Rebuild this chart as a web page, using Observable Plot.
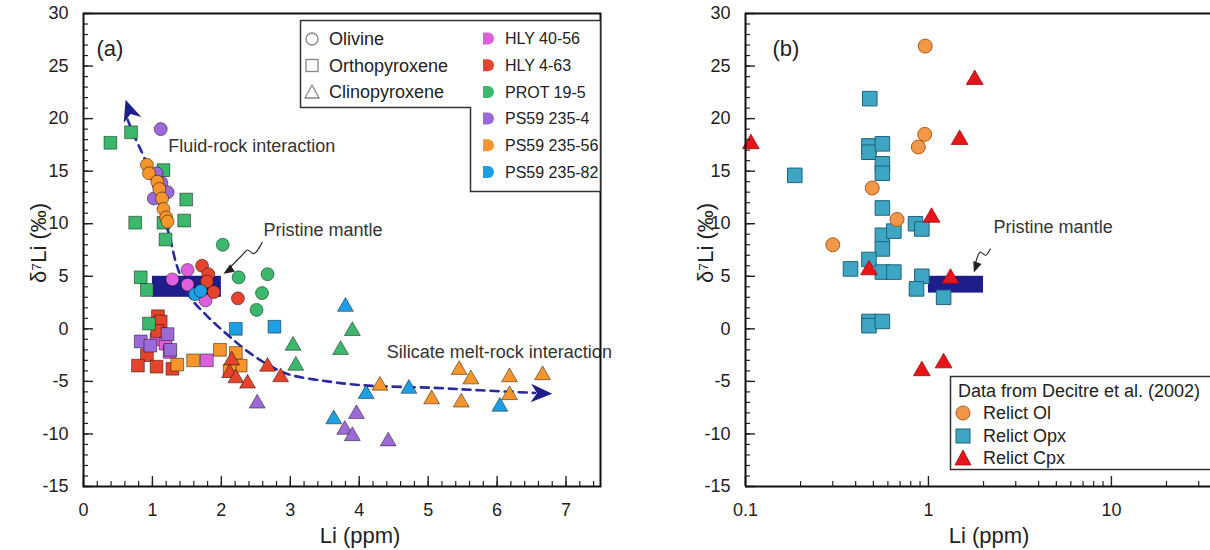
<!DOCTYPE html>
<html><head><meta charset="utf-8">
<script src="https://cdn.jsdelivr.net/npm/d3@7"></script>
<script src="https://cdn.jsdelivr.net/npm/@observablehq/plot@0.6"></script>
<style>
body{margin:0;background:#fff;}
#wrap{position:relative;width:1210px;height:550px;overflow:hidden;font-family:"Liberation Sans",Arial,Helvetica,sans-serif;background:#fff;}
#wrap > div, #wrap > svg{position:absolute;top:0;}
</style></head><body><div id="wrap"></div>
<script>
// ---------- categories ----------
const samples = ["HLY 40-56","HLY 4-63","PROT 19-5","PS59 235-4","PS59 235-56","PS59 235-82"];
const sampleColors = ["#de5fdb","#e5442c","#3cb86c","#9b69d8","#f5952b","#1d9fe3"];
const minerals = ["Olivine","Orthopyroxene","Clinopyroxene"];
const mineralSymbols = ["circle","square","triangle"];

// ---------- panel (a): [Li ppm, δ7Li ‰] ----------
// Olivine
const olHLY4056 = [[1.29,4.7],[1.51,5.6],[1.51,4.2],[1.77,2.7]];
const olHLY463  = [[1.72,6.0],[1.81,5.2],[1.79,4.5],[1.89,3.5],[2.24,2.9]];
const olPROT    = [[2.02,8.0],[2.25,4.9],[2.67,5.2],[2.59,3.4],[2.51,1.8]];
const olPS594   = [[1.12,19.0],[1.06,14.8],[1.13,13.9],[1.22,13.0],[1.02,12.4]];
const olPS5956  = [[0.92,15.6],[0.95,14.8],[1.07,14.0],[1.10,13.3],[1.14,12.4],[1.16,11.4],[1.20,10.6],[1.22,10.2]];
const olPS5982  = [[1.62,3.3],[1.70,3.6]];
// Orthopyroxene
const opxHLY4056 = [[1.06,-1.0],[1.19,-1.4],[1.25,-2.2],[1.79,-3.0]];
const opxHLY463  = [[1.08,1.2],[1.12,0.7],[1.07,-0.2],[0.92,-2.5],[0.79,-3.5],[1.06,-3.6],[1.29,-3.8]];
const opxPROT    = [[0.39,17.7],[0.69,18.7],[1.16,15.1],[1.49,12.3],[0.75,10.1],[1.16,10.1],[1.46,10.3],[1.19,8.5],[0.83,4.9],[0.92,3.7],[0.95,0.5]];
const opxPS594   = [[1.22,-0.5],[0.83,-1.2],[0.97,-1.6],[1.26,-2.0]];
const opxPS5956  = [[1.36,-3.4],[1.59,-3.0],[1.98,-2.0],[2.21,-2.3],[2.28,-3.5],[2.12,-4.0]];
const opxPS5982  = [[2.21,0.0],[2.77,0.2]];
// Clinopyroxene
const cpxHLY4056 = [];
const cpxHLY463  = [[2.15,-3.0],[2.12,-4.2],[2.21,-4.7],[2.38,-5.2],[2.67,-3.6],[2.86,-4.6]];
const cpxPROT    = [[3.04,-1.6],[3.08,-3.5],[3.90,-0.2],[3.73,-2.0]];
const cpxPS594   = [[2.52,-7.1],[3.96,-8.1],[3.79,-9.6],[3.90,-10.2],[4.42,-10.7]];
const cpxPS5956  = [[4.30,-5.4],[5.45,-3.9],[5.62,-4.8],[6.18,-4.6],[6.66,-4.4],[5.05,-6.7],[5.48,-7.0],[6.18,-6.3]];
const cpxPS5982  = [[3.80,2.1],[4.10,-6.2],[4.72,-5.7],[6.04,-7.4],[3.63,-8.6]];

// pristine mantle field [Li min, Li max, δ7Li min, δ7Li max]
const pristineA = [1.0, 2.0, 3.0, 5.0];
const pristineB = [1.0, 2.0, 3.4, 5.0];

// trend (dashed) path, arrow tips and their headings (deg)
const trendPath = [[0.64,19.9],[0.76,18.0],[0.88,16.3],[1.02,13.5],[1.14,11.0],[1.24,9.0],[1.36,5.9],[1.55,3.0],[1.75,1.5],[1.94,0.3],[2.13,-0.8],[2.37,-2.1],[2.67,-3.4],[2.96,-4.3],[3.54,-5.0],[4.12,-5.4],[5.04,-5.6],[5.76,-5.85],[6.55,-6.1]];
const trendTips = [[0.61,21.8,-19],[6.80,-6.17,92]];
// squiggly pointers to pristine mantle
const pointerA = [[2.59,8.2],[2.47,7.15],[2.38,7.5],[2.30,7.0],[2.09,5.6]];
const pointerATip = [[2.03,5.25,238]];
const pointerB = [[2.18,7.6],[2.05,7.0],[1.92,7.3],[1.84,6.7],[1.79,5.9]];
const pointerBTip = [[1.77,5.35,200]];

const annotA = [["Fluid-rock interaction",1.23,17.35],["Pristine mantle",2.61,9.37],["Silicate melt-rock interaction",4.40,-2.24]];
const annotB = [["Pristine mantle",2.27,9.66]];

// ---------- panel (b): Decitre et al. (2002) ----------
const relictGroups = ["Relict Ol","Relict Opx","Relict Cpx"];
const relictOl  = [[0.96,26.9],[0.954,18.5],[0.88,17.3],[0.493,13.4],[0.673,10.4],[0.30,8.0]];
const relictOpx = [[0.478,21.9],[0.473,17.4],[0.473,16.8],[0.56,17.6],[0.56,15.7],[0.56,14.8],[0.186,14.6],[0.56,11.5],[0.56,8.9],[0.647,9.3],[0.85,10.0],[0.92,9.5],[0.56,7.6],[0.473,6.6],[0.375,5.7],[0.56,5.4],[0.647,5.4],[0.92,5.0],[0.86,3.8],[1.21,3.0],[0.473,0.7],[0.473,0.3],[0.56,0.7]];
const relictCpx = [[0.107,17.6],[1.79,23.7],[1.48,18.0],[1.04,10.6],[0.473,5.6],[1.32,4.8],[0.92,-4.0],[1.21,-3.25]];

// ---------- ticks ----------
const yMajor = [-15,-10,-5,0,5,10,15,20,25,30];
const yMinor = d3.range(-15,31,1);
const xMajorA = [0,1,2,3,4,5,6,7];
const xMinorA = d3.range(0,7.5,0.2);
const xMajorB = [0.1,1,10];
const xMinorB = [0.2,0.3,0.4,0.5,0.6,0.7,0.8,0.9,2,3,4,5,6,7,8,9,20,30];

// ---------- build tables ----------
const groupsA = [
  [olHLY4056,olHLY463,olPROT,olPS594,olPS5956,olPS5982],
  [opxHLY4056,opxHLY463,opxPROT,opxPS594,opxPS5956,opxPS5982],
  [cpxHLY4056,cpxHLY463,cpxPROT,cpxPS594,cpxPS5956,cpxPS5982]
];
const tableA = [];
groupsA.forEach((bySample, mi) => bySample.forEach((pts, si) => pts.forEach(([li, d]) =>
  tableA.push({mineral: minerals[mi], sample: samples[si], li, d}))));
const tableB = [];
[relictOl, relictOpx, relictCpx].forEach((pts, gi) => pts.forEach(([li, d]) => tableB.push({group: relictGroups[gi], li, d})));
const toPts = arr => arr.map(([li, d]) => ({li, d}));
const toTips = arr => arr.map(([li, d, a]) => ({li, d, a}));

// ---------- styles ----------
const font = '"Liberation Sans", Arial, Helvetica, sans-serif';
const navy = "#1d1d8c";
const ink = "#222";
const arrowHead = {draw(ctx, size){ const s = Math.sqrt(size); ctx.moveTo(0,0); ctx.lineTo(0.5*s,1.15*s); ctx.lineTo(0,0.82*s); ctx.lineTo(-0.5*s,1.15*s); ctx.closePath(); }};
const pointHead = {draw(ctx, size){ const s = Math.sqrt(size); ctx.moveTo(0,0); ctx.lineTo(0.45*s,1.1*s); ctx.lineTo(-0.45*s,1.1*s); ctx.closePath(); }};

function axes(xMajor, xMinor) {
  return [
    Plot.axisY({ticks: yMinor, tickSize: 5, dx: 5, tickFormat: () => "", label: null, strokeWidth: 1.2}),
    Plot.axisY({ticks: yMajor, tickSize: 10, dx: 10, tickFormat: () => "", label: null, strokeWidth: 1.4}),
    Plot.axisY({ticks: yMajor, tickSize: 0, tickPadding: 15, tickFormat: d => String(d), label: null, fontSize: 18}),
    Plot.axisX({ticks: xMinor, tickSize: 5, dy: -5, tickFormat: () => "", label: null, strokeWidth: 1.2}),
    Plot.axisX({ticks: xMajor, tickSize: 10, dy: -10, tickFormat: () => "", label: null, strokeWidth: 1.4}),
    Plot.axisX({ticks: xMajor, tickSize: 0, tickPadding: 17, tickFormat: d => String(d), label: null, fontSize: 18})
  ];
}
function titles(dxX, dxY, dyY, panel, dxP) {
  return [
    Plot.text(["Li (ppm)"], {frameAnchor: "bottom", dy: 49, dx: dxX, fontSize: 22, textAnchor: "middle", lineAnchor: "middle", fill: ink}),
    Plot.text(["δ\u2077Li (‰)"], {frameAnchor: "left", dx: dxY, dy: dyY, rotate: -90, fontSize: 22, textAnchor: "middle", lineAnchor: "middle", fill: ink}),
    Plot.text([panel], {frameAnchor: "top-left", dx: dxP, dy: 35, fontSize: 22, textAnchor: "start", lineAnchor: "middle", fill: ink})
  ];
}

const wrap = document.getElementById("wrap");

// ---------- panel (a) ----------
const dotStyle = {x: "li", y: "d", fill: "sample", stroke: "#000", strokeOpacity: 0.45, strokeWidth: 1};
const plotA = Plot.plot({
  width: 630, height: 550,
  marginLeft: 83, marginRight: 30, marginTop: 13, marginBottom: 64,
  x: {domain: [0, 7.5]},
  y: {domain: [-15, 30]},
  color: {domain: samples, range: sampleColors},
  style: {fontFamily: font, fontSize: "18px", color: ink, background: "transparent", overflow: "visible"},
  marks: [
    Plot.rect([pristineA], {x1: d => d[0], x2: d => d[1], y1: d => d[2], y2: d => d[3], fill: navy}),
    Plot.line(toPts(trendPath), {x: "li", y: "d", curve: "catmull-rom", stroke: "#2a2aa0", strokeWidth: 2.6, strokeDasharray: "8,6"}),
    Plot.dot(toTips(trendTips), {x: "li", y: "d", rotate: "a", symbol: arrowHead, r: 10.5, fill: navy, stroke: null}),
    Plot.dot(tableA.filter(d => d.mineral === "Orthopyroxene"), {...dotStyle, symbol: "square", r: 7.2}),
    Plot.dot(tableA.filter(d => d.mineral === "Olivine"), {...dotStyle, symbol: "circle", r: 6.5}),
    Plot.dot(tableA.filter(d => d.mineral === "Clinopyroxene"), {...dotStyle, symbol: "triangle", r: 5.9}),
    Plot.line(toPts(pointerA), {x: "li", y: "d", curve: "catmull-rom", stroke: "#333", strokeWidth: 1.2}),
    Plot.dot(toTips(pointerATip), {x: "li", y: "d", rotate: "a", symbol: pointHead, r: 5.5, fill: "#222", stroke: null}),
    Plot.text(annotA, {x: d => d[1], y: d => d[2], text: d => d[0], textAnchor: "start", fontSize: 18, fill: "#333"}),
    ...axes(xMajorA, xMinorA),
    ...titles(18, -45, -7, "(a)", 13),
    Plot.frame({stroke: "#111", strokeWidth: 2})
  ]
});
const da = document.createElement("div"); da.style.left = "0px"; da.appendChild(plotA); wrap.appendChild(da);

// ---------- panel (b) ----------
const plotB = Plot.plot({
  width: 570, height: 550,
  marginLeft: 105, marginRight: 0, marginTop: 13, marginBottom: 64,
  x: {type: "log", domain: [0.1, 34.8]},
  y: {domain: [-15, 30]},
  style: {fontFamily: font, fontSize: "18px", color: ink, background: "transparent"},
  marks: [
    Plot.rect([pristineB], {x1: d => d[0], x2: d => d[1], y1: d => d[2], y2: d => d[3], fill: navy}),
    Plot.dot(tableB.filter(d => d.group === "Relict Opx"), {x: "li", y: "d", symbol: "square", r: 8.2, fill: "#3ea6c4", stroke: "#1d6378", strokeWidth: 1}),
    Plot.dot(tableB.filter(d => d.group === "Relict Ol"), {x: "li", y: "d", symbol: "circle", r: 7, fill: "#f2974a", stroke: "#a85d1c", strokeWidth: 1}),
    Plot.dot(tableB.filter(d => d.group === "Relict Cpx"), {x: "li", y: "d", symbol: "triangle", r: 6.2, fill: "#e8141b", stroke: "#a50d10", strokeWidth: 0.8}),
    Plot.line(toPts(pointerB), {x: "li", y: "d", curve: "catmull-rom", stroke: "#333", strokeWidth: 1.2}),
    Plot.dot(toTips(pointerBTip), {x: "li", y: "d", rotate: "a", symbol: pointHead, r: 5.5, fill: "#222", stroke: null}),
    Plot.text(annotB, {x: d => d[1], y: d => d[2], text: d => d[0], textAnchor: "start", fontSize: 18, fill: "#333"}),
    ...axes(xMajorB, xMinorB),
    ...titles(11, -40, -7, "(b)", 27),
    Plot.ruleX([0.1], {stroke: "#111", strokeWidth: 2}),
    Plot.ruleY([-15, 30], {stroke: "#111", strokeWidth: 2})
  ]
});
const db = document.createElement("div"); db.style.left = "640px"; db.appendChild(plotB); wrap.appendChild(db);

// ---------- legends (overlay) ----------
const legendA = `
<svg width="1210" height="550" style="position:absolute;left:0;top:0;pointer-events:none" font-family='${font}' font-size="18" fill="${ink}">
  <path d="M300.5,20.5 H600.5 V191.5 H470.5 V107.5 H300.5 Z" fill="#fff" stroke="#333" stroke-width="1.5"/>
  ${minerals.map((m, i) => {
    const y = 39 + i * 26.5;
    const sym = mineralSymbols[i] === "circle" ? `<circle cx="312" cy="${y}" r="6" fill="none" stroke="#888" stroke-width="1.3"/>`
      : mineralSymbols[i] === "square" ? `<rect x="306" y="${y-6}" width="12" height="12" fill="none" stroke="#888" stroke-width="1.3"/>`
      : `<path d="M312,${y-7} L319,${y+6} L305,${y+6} Z" fill="none" stroke="#888" stroke-width="1.3"/>`;
    return sym + `<text x="329" y="${y}" dy="0.35em">${m}</text>`;
  }).join("")}
  ${samples.map((s, i) => {
    const y = 38.5 + i * 26.7;
    return `<path d="M483,${y-6} h5 a6,6 0 0 1 0,12 h-5 z" fill="${sampleColors[i]}"/>` +
      `<text x="505" y="${y}" dy="0.35em" font-size="16">${s}</text>`;
  }).join("")}
  <rect x="950.5" y="376.5" width="280" height="93" fill="#fff" stroke="#333" stroke-width="1.5"/>
  <text x="958" y="391" dy="0.35em">Data from Decitre et al. (2002)</text>
  <circle cx="963" cy="413" r="7" fill="#f2974a" stroke="#a85d1c"/>
  <text x="983" y="413" dy="0.35em">${relictGroups[0]}</text>
  <rect x="956" y="429" width="14" height="14" fill="#3ea6c4" stroke="#1d6378"/>
  <text x="983" y="436" dy="0.35em">${relictGroups[1]}</text>
  <path d="M963,450 L971,465 L955,465 Z" fill="#e8141b" stroke="#a50d10" stroke-width="0.8"/>
  <text x="983" y="458" dy="0.35em">${relictGroups[2]}</text>
</svg>`;
wrap.insertAdjacentHTML("beforeend", legendA);
</script>
</body></html>
